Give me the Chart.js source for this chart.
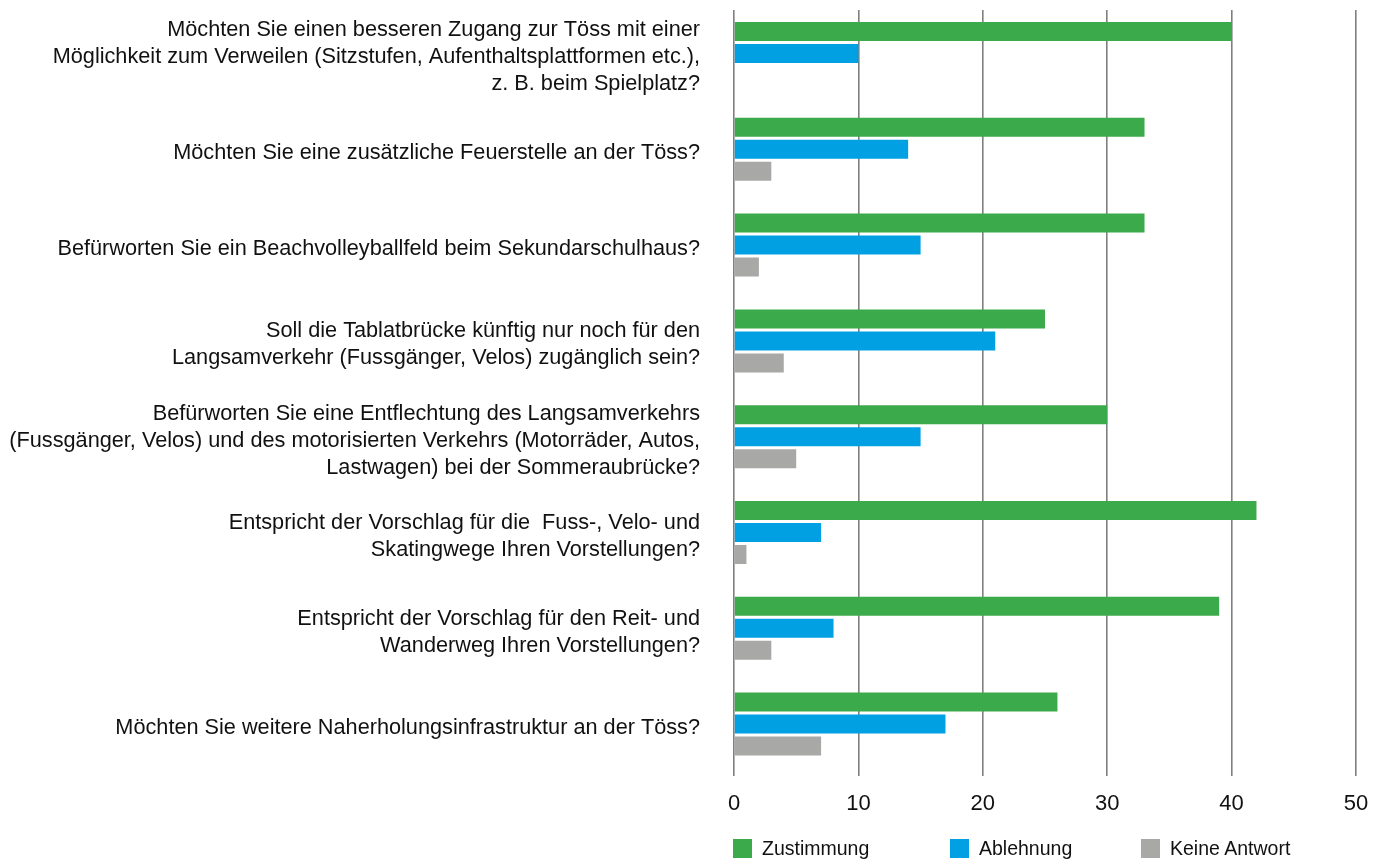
<!DOCTYPE html>
<html>
<head>
<meta charset="utf-8">
<script src="https://cdn.jsdelivr.net/npm/chart.js@4"></script>
<style>
  html, body { margin: 0; padding: 0; background: #fff; }
  #wrap { position: relative; width: 1382px; height: 861px; }
  #legend { position: absolute; top: 839px; left: 0; width: 1382px; height: 20px; font-family: "Liberation Sans", Arial, sans-serif; font-size: 19.5px; color: #111; }
  .li { position: absolute; top: 0; height: 19px; display: flex; align-items: center; }
  .sw { width: 19px; height: 19px; margin-right: 10px; flex: none; }
</style>
</head>
<body>
<div id="wrap">
  <canvas id="c" width="1382" height="861"></canvas>
  <div id="legend"></div>
</div>
<script>
const categories = [
  ["Möchten Sie einen besseren Zugang zur Töss mit einer", "Möglichkeit zum Verweilen (Sitzstufen, Aufenthaltsplattformen etc.),", "z. B. beim Spielplatz?"],
  ["Möchten Sie eine zusätzliche Feuerstelle an der Töss?"],
  ["Befürworten Sie ein Beachvolleyballfeld beim Sekundarschulhaus?"],
  ["Soll die Tablatbrücke künftig nur noch für den", "Langsamverkehr (Fussgänger, Velos) zugänglich sein?"],
  ["Befürworten Sie eine Entflechtung des Langsamverkehrs", "(Fussgänger, Velos) und des motorisierten Verkehrs (Motorräder, Autos,", "Lastwagen) bei der Sommeraubrücke?"],
  ["Entspricht der Vorschlag für die  Fuss-, Velo- und", "Skatingwege Ihren Vorstellungen?"],
  ["Entspricht der Vorschlag für den Reit- und", "Wanderweg Ihren Vorstellungen?"],
  ["Möchten Sie weitere Naherholungsinfrastruktur an der Töss?"]
];
const seriesNames = ["Zustimmung", "Ablehnung", "Keine Antwort"];
const zustimmung = [40, 33, 33, 25, 30, 42, 39, 26];
const ablehnung = [10, 14, 15, 21, 15, 7, 8, 17];
const keineAntwort = [null, 3, 2, 4, 5, 1, 3, 7];
const xTicks = [0, 10, 20, 30, 40, 50];
const colors = ["#3aaa4a", "#00a0e3", "#a8a8a7"];

const FONT = "'Liberation Sans', Arial, sans-serif";

const gridTrim = {
  id: 'gridTrim',
  afterLayout(chart) {
    const ys = chart.scales.y;
    if (!ys._shifted) {
      const orig = ys.drawLabels;
      ys.drawLabels = function (a) {
        const ctx = this.ctx;
        ctx.save();
        ctx.translate(0, 4);
        orig.call(this, a);
        ctx.restore();
      };
      ys._shifted = true;
    }
  },
  beforeDatasetsDraw(chart) {
    const a = chart.chartArea, ctx = chart.ctx;
    ctx.save();
    ctx.fillStyle = '#fff';
    ctx.fillRect(a.left - 3, a.top - 1, a.right - a.left + 6, 5.4);
    ctx.restore();
  }
};

new Chart(document.getElementById('c'), {
  type: 'bar',
  data: {
    labels: categories,
    datasets: [
      { label: seriesNames[0], data: zustimmung, backgroundColor: colors[0] },
      { label: seriesNames[1], data: ablehnung, backgroundColor: colors[1] },
      { label: seriesNames[2], data: keineAntwort, backgroundColor: colors[2] }
    ]
  },
  options: {
    indexAxis: 'y',
    responsive: false,
    animation: false,
    devicePixelRatio: 1,
    layout: { padding: { left: 0, right: 26, top: 5.6, bottom: 0 } },
    datasets: { bar: { categoryPercentage: 0.689, barPercentage: 0.864, borderWidth: 0 } },
    plugins: { legend: { display: false }, tooltip: { enabled: false } },
    scales: {
      x: {
        min: 0, max: 50,
        afterBuildTicks(s) { s.ticks = xTicks.map(v => ({ value: v })); },
        afterFit(s) { s.height = 89; s.paddingLeft = 0; s.paddingRight = 0; },
        grid: { color: '#7f7f7f', lineWidth: 1.6, tickLength: 4, drawTicks: true },
        border: { display: false },
        ticks: { padding: 15, color: '#111', font: { family: FONT, size: 22 } }
      },
      y: {
        afterFit(s) { s.width = 734; s.paddingTop = 0; s.paddingBottom = 0; },
        grid: { display: false },
        border: { display: false },
        ticks: { padding: 26, color: '#111', font: { family: FONT, size: 21.7, lineHeight: '27px' }, autoSkip: false }
      }
    }
  },
  plugins: [gridTrim]
});

const lg = document.getElementById('legend');
const lx = [733, 950, 1141];
seriesNames.forEach((n, i) => {
  const d = document.createElement('div');
  d.className = 'li';
  d.style.left = lx[i] + 'px';
  d.innerHTML = '<span class="sw" style="background:' + colors[i] + '"></span><span>' + n + '</span>';
  lg.appendChild(d);
});
</script>
</body>
</html>
